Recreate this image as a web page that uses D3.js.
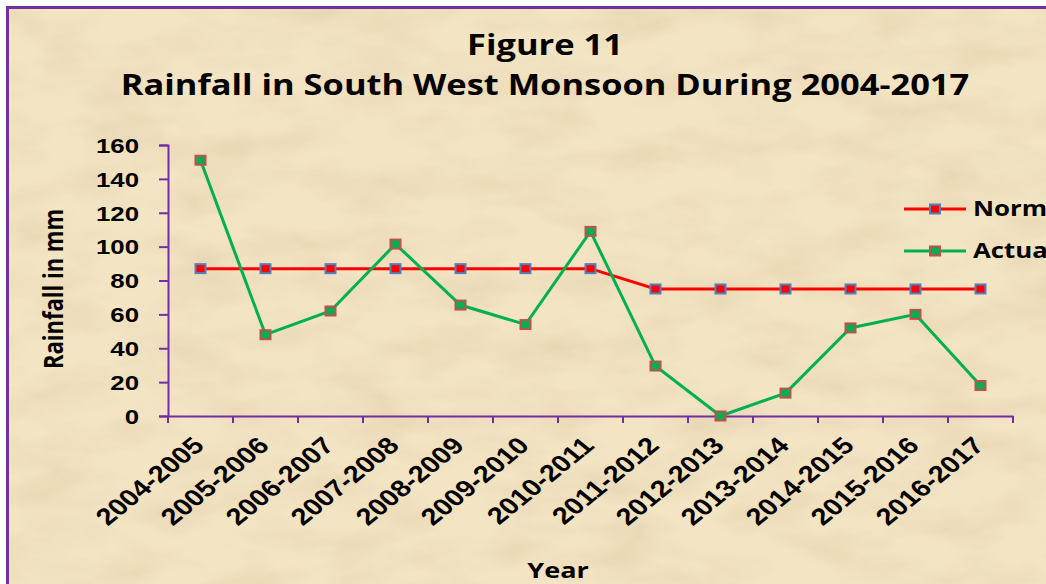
<!DOCTYPE html>
<html>
<head>
<meta charset="utf-8">
<script src="https://cdn.jsdelivr.net/npm/d3@7"></script>
<style>
  body { margin: 0; background: #fff; }
  svg { display: block; font-family: "Open Sans", sans-serif; }
</style>
</head>
<body>
<div id="vis"></div>
<script>
const years = ["2004-2005", "2005-2006", "2006-2007", "2007-2008", "2008-2009", "2009-2010",
  "2010-2011", "2011-2012", "2012-2013", "2013-2014", "2014-2015", "2015-2016", "2016-2017"];
const normal = [87, 87, 87, 87, 87, 87, 87, 75, 75, 75, 75, 75, 75];
const actual = [151, 48, 62, 101.5, 65.5, 54, 109, 29.5, 0, 13.5, 52, 60, 18];
const yTicks = [0, 20, 40, 60, 80, 100, 120, 140, 160];

const width = 1046, height = 584;
const margin = {left: 168, right: 33, top: 145, bottom: 168};
// the original picture is stretched sideways, text included
const S = 1.23;

const svg = d3.select("#vis").append("svg")
  .attr("width", width)
  .attr("height", height);

// parchment texture
const defs = svg.append("defs");
const f = defs.append("filter").attr("id", "paper").attr("x", 0).attr("y", 0)
  .attr("width", "100%").attr("height", "100%");
f.append("feTurbulence").attr("type", "fractalNoise")
  .attr("baseFrequency", "0.012 0.03").attr("numOctaves", 4).attr("seed", 7);
f.append("feColorMatrix").attr("type", "matrix")
  .attr("values", "0 0 0 0 0.55  0 0 0 0 0.42  0 0 0 0 0.25  0 0 0 -0.9 0.55");
f.append("feComposite").attr("in2", "SourceGraphic").attr("operator", "in");

svg.append("rect").attr("x", 7).attr("y", 7).attr("width", width).attr("height", height)
  .attr("fill", "#f3e4c3");
svg.append("rect").attr("x", 7).attr("y", 7).attr("width", width).attr("height", height)
  .attr("fill", "#f3e4c3").attr("filter", "url(#paper)").attr("opacity", 0.5);
svg.append("rect").attr("x", 7.5).attr("y", 7.5).attr("width", width).attr("height", height)
  .attr("fill", "none").attr("stroke", "#7030a0").attr("stroke-width", 3);

function label(sel, x, y, txt, size, extra) {
  return sel.append("text")
    .attr("transform", `translate(${x},${y}) scale(${S},1)` + (extra || ""))
    .attr("font-size", size).attr("font-weight", "bold").attr("fill", "#000")
    .text(txt);
}

// titles
label(svg, 545, 55, "Figure 11", 28).attr("text-anchor", "middle");
label(svg, 545, 95, "Rainfall in South West Monsoon During 2004-2017", 28)
  .attr("text-anchor", "middle");

const x = d3.scaleBand()
  .domain(years)
  .range([margin.left, width - margin.right]);

const y = d3.scaleLinear()
  .domain([0, 160])
  .range([height - margin.bottom, margin.top]);

const purple = "#7030a0";

// y axis
const yAxis = svg.append("g")
  .attr("transform", `translate(${margin.left},0)`)
  .call(d3.axisLeft(y).tickValues(yTicks).tickSize(9).tickSizeOuter(9));
yAxis.selectAll(".tick text")
  .attr("x", null).attr("dy", "0.35em")
  .attr("transform", `translate(-29,0) scale(${S},1)`)
  .attr("font-size", 21).attr("font-weight", "bold").attr("fill", "#000");

// x axis
const xAxis = svg.append("g")
  .attr("transform", `translate(0,${height - margin.bottom})`)
  .call(d3.axisBottom(x).tickSize(0).tickSizeOuter(0).tickFormat(""));
xAxis.selectAll(".xtick")
  .data(d3.range(years.length + 1))
  .join("line")
  .attr("x1", i => margin.left + i * x.step())
  .attr("x2", i => margin.left + i * x.step())
  .attr("y1", 0).attr("y2", 7)
  .attr("stroke", purple).attr("stroke-width", 2);
years.forEach(d => {
  label(xAxis, x(d) + x.bandwidth() / 2 + 5, 31, d, 23.5, " rotate(-45)")
    .attr("text-anchor", "end");
});

[yAxis, xAxis].forEach(a => {
  a.selectAll(".domain").attr("stroke", purple).attr("stroke-width", 2);
  a.selectAll(".tick line").attr("stroke", purple).attr("stroke-width", 2);
});

// axis titles
label(svg, 63, 289, "Rainfall in mm", 22, " rotate(-90)").attr("text-anchor", "middle");
label(svg, 558, 578, "Year", 22).attr("text-anchor", "middle");

// series
const series = [
  {name: "Normal", values: normal, line: "#ff0000", fill: "#ff0000", stroke: "#4f81bd"},
  {name: "Actual", values: actual, line: "#00b050", fill: "#00b050", stroke: "#c0504d"}
];

const line = d3.line()
  .x((d, i) => x(years[i]) + x.bandwidth() / 2)
  .y(d => y(d));

for (const s of series) {
  svg.append("path")
    .datum(s.values)
    .attr("fill", "none")
    .attr("stroke", s.line)
    .attr("stroke-width", 3)
    .attr("d", line);
  svg.append("g")
    .selectAll("rect")
    .data(s.values)
    .join("rect")
      .attr("x", (d, i) => x(years[i]) + x.bandwidth() / 2 - 5)
      .attr("y", d => y(d) - 4.5)
      .attr("width", 10)
      .attr("height", 9)
      .attr("fill", s.fill)
      .attr("stroke", s.stroke)
      .attr("stroke-width", 2);
}

// legend
const legend = svg.append("g").attr("transform", "translate(904,209)");
series.forEach((s, i) => {
  const g = legend.append("g").attr("transform", `translate(0,${i * 42})`);
  g.append("line").attr("x1", 0).attr("x2", 62).attr("stroke", s.line).attr("stroke-width", 3);
  g.append("rect").attr("x", 26).attr("y", -4.5).attr("width", 10).attr("height", 9)
    .attr("fill", s.fill).attr("stroke", s.stroke).attr("stroke-width", 2);
  label(g, 69, 7, s.name, 21);
});
</script>
</body>
</html>
